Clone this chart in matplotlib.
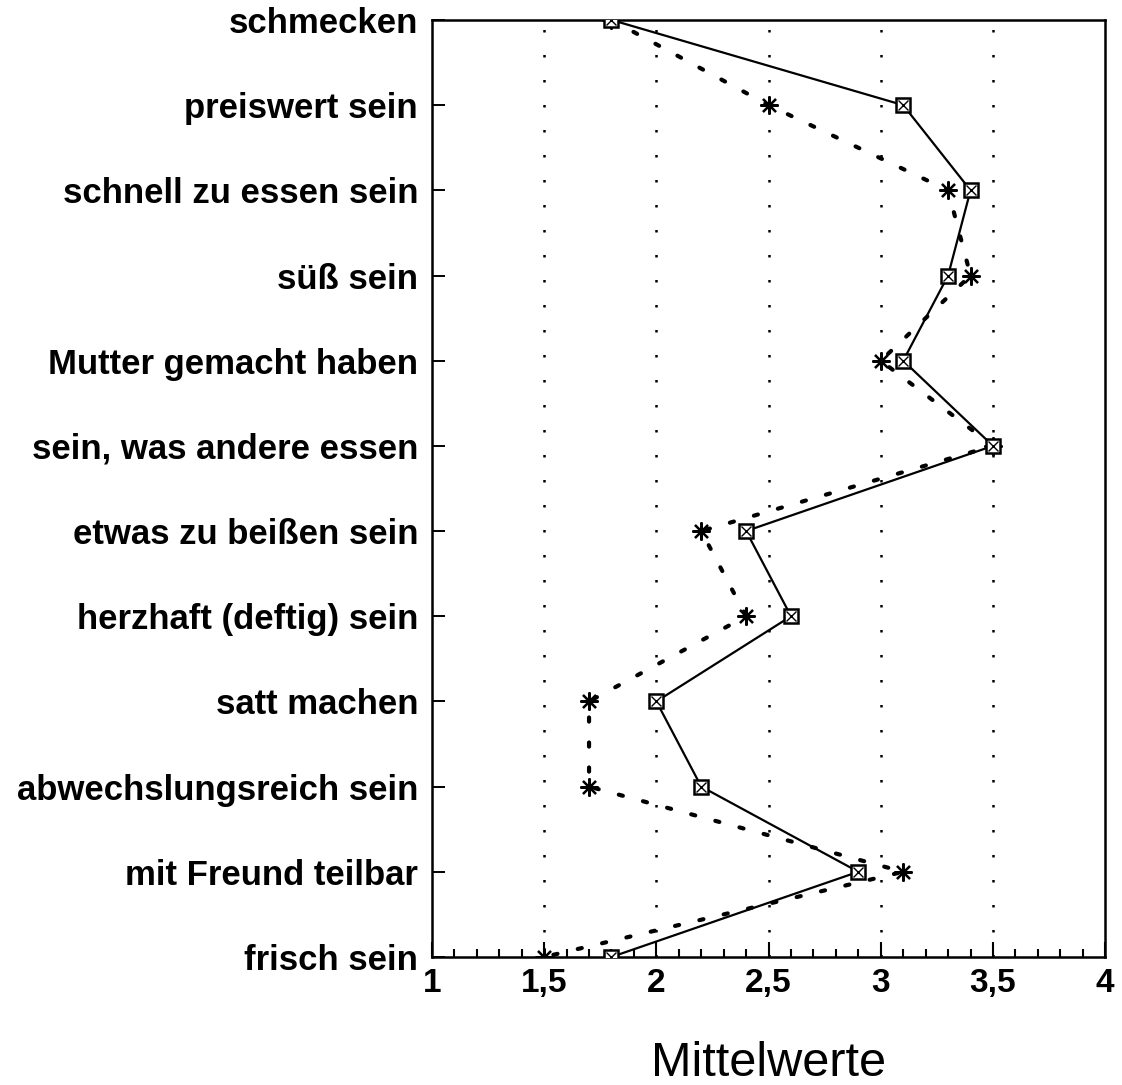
import numpy as np
import matplotlib.pyplot as plt
from matplotlib.ticker import MultipleLocator, FixedLocator

# Kategorien von oben nach unten
kategorien = ['schmecken', 'preiswert sein', 'schnell zu essen sein', 'süß sein',
              'Mutter gemacht haben', 'sein, was andere essen', 'etwas zu beißen sein',
              'herzhaft (deftig) sein', 'satt machen', 'abwechslungsreich sein',
              'mit Freund teilbar', 'frisch sein']
werte_quadrat = [1.8, 3.1, 3.4, 3.3, 3.1, 3.5, 2.4, 2.6, 2.0, 2.2, 2.9, 1.8]
werte_stern = [1.8, 2.5, 3.3, 3.4, 3.0, 3.5, 2.2, 2.4, 1.7, 1.7, 3.1, 1.5]
xticks = [1, 1.5, 2, 2.5, 3, 3.5, 4]
xticklabels = ['1', '1,5', '2', '2,5', '3', '3,5', '4']

plt.rcParams['font.family'] = ['Liberation Sans', 'DejaVu Sans']

n = len(kategorien)
ypos = np.arange(n)[::-1]

fig = plt.figure(figsize=(11.22, 10.85), dpi=100)
ax = fig.add_axes([0.385, 0.118, 0.600, 0.8636])

for xv in xticks[1:-1]:
    ax.axvline(xv, color='black', linestyle=(0, (1, 9)), linewidth=1.8, zorder=0)

ax.plot(werte_stern, ypos, color='black', linestyle=(0, (1, 5)), linewidth=3,
        dash_capstyle='round', zorder=2)
ax.plot(werte_stern, ypos, linestyle='none', marker=(8, 2, 0), markersize=13,
        markeredgewidth=1.6, color='black', zorder=3)

ax.plot(werte_quadrat, ypos, color='black', linewidth=1.6, zorder=2)
ax.plot(werte_quadrat, ypos, linestyle='none', marker='s', markersize=10,
        markerfacecolor='white', markeredgecolor='black', markeredgewidth=1.8, zorder=4)
ax.plot(werte_quadrat, ypos, linestyle='none', marker='x', markersize=7,
        markeredgecolor='black', markeredgewidth=1.0, zorder=5)

ax.set_xlim(1, 4)
ax.set_ylim(0, n - 1)
ax.set_yticks(ypos)
ax.set_yticklabels(kategorien, fontsize=25, fontweight='bold')
ax.xaxis.set_major_locator(FixedLocator(xticks))
ax.set_xticklabels(xticklabels, fontsize=24, fontweight='bold')
ax.xaxis.set_minor_locator(MultipleLocator(0.1))
ax.tick_params(axis='x', which='major', direction='in', length=11, width=1.5, pad=8)
ax.tick_params(axis='x', which='minor', direction='in', length=6, width=1.5)
ax.tick_params(axis='y', direction='in', length=9, width=1.4, pad=10)

for s in ax.spines.values():
    s.set_linewidth(1.8)

ax.set_xlabel('Mittelwerte', fontsize=35, labelpad=30)

fig.savefig('out.png', dpi=100)
